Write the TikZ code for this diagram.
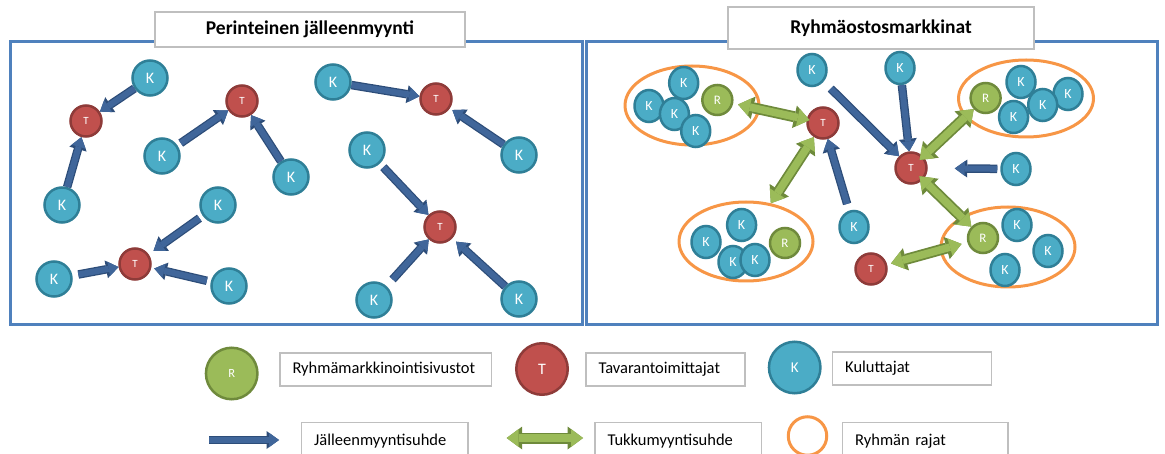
\documentclass[tikz,border=0pt]{standalone}
\usepackage{fontspec}
\setmainfont{Carlito}
\usetikzlibrary{arrows.meta,shapes.geometric}
\definecolor{kfill}{HTML}{4BACC6}
\definecolor{kline}{HTML}{2F7F97}
\definecolor{tfill}{HTML}{C0504D}
\definecolor{tline}{HTML}{8E3B39}
\definecolor{rfill}{HTML}{9BBB59}
\definecolor{rline}{HTML}{6F8A3C}
\definecolor{bluefill}{HTML}{40669A}
\definecolor{blueline}{HTML}{2D4D79}
\definecolor{greenfill}{HTML}{9BBB59}
\definecolor{greenline}{HTML}{6E8A3B}
\definecolor{framecol}{HTML}{4F81BD}
\definecolor{boxgray}{HTML}{BFBFBF}
\definecolor{grporange}{HTML}{F79646}
\tikzset{
  every node/.style={inner sep=0pt},
  kbig/.style={circle, fill=kfill, draw=kline, line width=2.5pt, minimum size=35pt, text=white, font=\fontsize{16}{16}\selectfont},
  tbig/.style={circle, fill=tfill, draw=tline, line width=2.5pt, minimum size=31pt, text=white, font=\fontsize{11}{11}\selectfont},
  ksm/.style={ellipse, fill=kfill, draw=kline, line width=2.5pt, minimum width=29pt, minimum height=32pt, text=white, font=\fontsize{14}{14}\selectfont},
  tsm/.style={circle, fill=tfill, draw=tline, line width=2.5pt, minimum size=31pt, text=white, font=\fontsize{11}{11}\selectfont},
  rsm/.style={circle, fill=rfill, draw=rline, line width=2.5pt, minimum size=30pt, text=white, font=\fontsize{13}{13}\selectfont},
  grp/.style={ellipse, draw=grporange, line width=3pt},
  frm/.style={draw=framecol, line width=3pt},
  titlebox/.style={draw=boxgray, fill=white, line width=1.5pt, font=\bfseries\fontsize{19.5}{20}\selectfont},
  lbox/.style={draw=boxgray, fill=white, line width=1.2pt, inner xsep=12.5pt, align=left, font=\fontsize{16.5}{17}\selectfont},
  lcirc/.style={circle, line width=2.5pt, minimum size=51.5pt, text=white},
  barrow/.style={draw=bluefill, line width=6pt, arrows={-Triangle[length=10pt,width=14.5pt,line width=0pt]},
    preaction={draw=blueline, line width=8.5pt, arrows={-Triangle[length=12.5pt,width=18pt,line width=0pt]}}},
  garrow/.style={draw=greenfill, line width=7.5pt, arrows={Triangle[length=12pt,width=18pt,line width=0pt]-Triangle[length=12pt,width=18pt,line width=0pt]},
    preaction={draw=greenline, line width=11pt, arrows={Triangle[length=15.5pt,width=23pt,line width=0pt]-Triangle[length=15.5pt,width=23pt,line width=0pt]}}},
}
\begin{document}
\begin{tikzpicture}[x=1pt,y=-1pt]
\useasboundingbox (0,0) rectangle (1165,454);
% frames
\draw[frm] (10,42) rectangle (582.5,325);
\draw[frm] (586.5,42) rectangle (1157.5,325);
\node[titlebox, minimum width=310pt, minimum height=35pt] (title1) at (310,29.5) {Perinteinen jälleenmyynti};
\node[titlebox, minimum width=306pt, minimum height=42pt] (title2) at (881,28) {Ryhmäostosmarkkinat};

% ---------- left panel ----------
\node[kbig] (kA) at (150,78) {K};
\node[tbig] (tA) at (86,121) {T};
\node[kbig] (kB) at (62,205) {K};
\node[tbig] (tB) at (242,101) {T};
\node[kbig] (kC) at (162,156) {K};
\node[kbig] (kD) at (291,177) {K};
\node[kbig] (kE) at (218,205) {K};
\node[tbig] (tC) at (135,264) {T};
\node[kbig] (kF) at (54,279) {K};
\node[kbig] (kG) at (229,286) {K};
\node[kbig] (kH) at (333,82) {K};
\node[tbig] (tD) at (436,99) {T};
\node[kbig] (kI) at (519,155) {K};
\node[kbig] (kJ) at (367,150) {K};
\node[tbig] (tE) at (440,227) {T};
\node[kbig] (kK) at (374,300) {K};
\node[kbig] (kL) at (519,299) {K};

\draw[barrow] (kA) -- (tA);
\draw[barrow] (kB) -- (tA);
\draw[barrow, shorten <=4pt] (kC) -- (tB);
\draw[barrow] (kD) -- (tB);
\draw[barrow, shorten <=4pt, shorten >=6pt] (kE) -- (tC);
\draw[barrow, shorten <=6pt] (kF) -- (tC);
\draw[barrow, shorten <=4pt, shorten >=3pt] (kG) -- (tC);
\draw[barrow] (kH) -- (tD);
\draw[barrow, shorten >=3pt] (kI) -- (tD);
\draw[barrow, shorten <=5pt] (kJ) -- (tE);
\draw[barrow, shorten <=9pt] (kK) -- (tE);
\draw[barrow, shorten >=5pt] (kL) -- (tE);

% ---------- right panel ----------
\node[grp, minimum width=134pt, minimum height=79pt] (g1) at (692,105.5) {};
\node[grp, minimum width=135pt, minimum height=77pt] (g2) at (1026,98.5) {};
\node[grp, minimum width=134pt, minimum height=79pt] (g3) at (746,241.5) {};
\node[grp, minimum width=134pt, minimum height=80pt] (g4) at (1008,247) {};

\node[ksm] (k1a) at (683.7,83) {K};
\node[ksm] (k1b) at (649,106) {K};
\node[ksm] (k1c) at (674.4,114) {K};
\node[ksm] (k1d) at (695.7,131) {K};
\node[rsm] (r1) at (717.3,100) {R};

\node[rsm] (r2) at (985.6,98) {R};
\node[ksm] (k2a) at (1021,82) {K};
\node[ksm] (k2c) at (1068,94) {K};
\node[ksm] (k2b) at (1042.7,105) {K};
\node[ksm] (k2d) at (1013.6,117) {K};

\node[ksm] (k3a) at (706,242) {K};
\node[ksm] (k3b) at (741.6,225) {K};
\node[ksm] (k3c) at (733,262) {K};
\node[ksm] (k3d) at (755,260) {K};
\node[rsm] (r3) at (785,243) {R};

\node[rsm] (r4) at (983,238) {R};
\node[ksm] (k4a) at (1017,225) {K};
\node[ksm] (k4b) at (1048,251) {K};
\node[ksm] (k4c) at (1005,270) {K};

\node[tsm] (tF) at (823,123) {T};
\node[tsm] (tG) at (911,168) {T};
\node[tsm] (tH) at (871,269) {T};
\node[ksm] (kM) at (812,70) {K};
\node[ksm] (kN) at (900,68) {K};
\node[ksm] (kO) at (1016,169) {K};
\node[ksm] (kP) at (854,227) {K};

\draw[garrow, shorten <=5pt, shorten >=-3pt] (r1) -- (tF);
\draw[garrow] (tF) -- (g3);
\draw[barrow, shorten <=10pt] (kM) -- (tG);
\draw[barrow] (kN) -- (tG);
\draw[barrow, shorten <=3pt, shorten >=27pt] (kO) -- (tG);
\draw[barrow, shorten <=7pt] (kP) -- (tF);
\draw[garrow, shorten <=-5pt] (tG) -- (r2);
\draw[garrow, shorten <=-5pt] (tG) -- (r4);
\draw[garrow, shorten <=4pt, shorten >=6pt] (tH) -- (r4);

% ---------- legend ----------
\node[lcirc, fill=rfill, draw=rline, font=\fontsize{12.5}{13}\selectfont] (lR) at (231.7,373.5) {R};
\node[lbox, text width=186.7pt, minimum height=33pt] (bR) at (385.85,369.5) {Ryhmämarkkinointisivustot};
\node[lcirc, fill=tfill, draw=tline, font=\fontsize{16}{16}\selectfont] (lT) at (542,369) {T};
\node[lbox, text width=134pt, minimum height=33pt] (bT) at (665.5,369.5) {Tavarantoimittajat};
\node[lcirc, fill=kfill, draw=kline, font=\fontsize{15}{15}\selectfont] (lK) at (794.7,367.5) {K};
\node[lbox, text width=134pt, minimum height=33pt] (bK) at (912.2,368.5) {Kuluttajat};

\coordinate (la1) at (209,440);
\coordinate (la2) at (279,440);
\draw[barrow] (la1) -- (la2);
\node[lbox, text width=141.3pt, minimum height=36pt] (bJ) at (384.85,440.7) {Jälleenmyyntisuhde};
\coordinate (lg1) at (506.7,438);
\coordinate (lg2) at (583,438);
\draw[garrow] (lg1) -- (lg2);
\node[lbox, text width=141.7pt, minimum height=36pt] (bG) at (678.35,440.7) {Tukkumyyntisuhde};
\node[circle, draw=grporange, line width=3pt, minimum size=38.5pt] (lO) at (807.5,436) {};
\node[lbox, text width=140.3pt, minimum height=36pt] (bO) at (925.35,440.7) {Ryhmän rajat};
\end{tikzpicture}
\end{document}
